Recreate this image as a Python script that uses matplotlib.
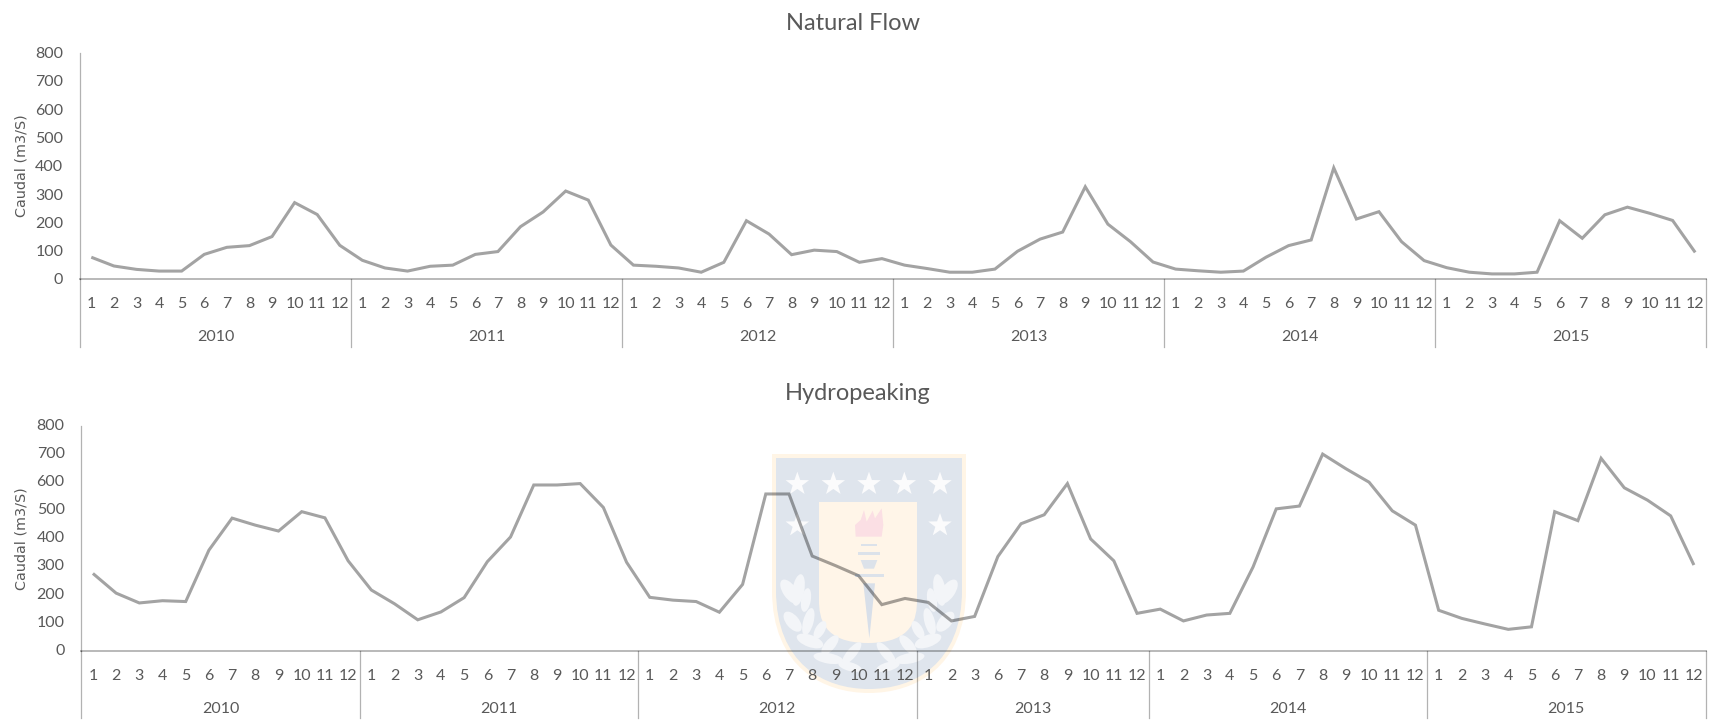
import matplotlib
matplotlib.use("Agg")
import matplotlib.pyplot as plt
from matplotlib.patches import PathPatch, Ellipse, Polygon
from matplotlib.path import Path
from matplotlib.transforms import ScaledTranslation
import numpy as np

years = [2010, 2011, 2012, 2013, 2014, 2015]
months_full = [1, 2, 3, 4, 5, 6, 7, 8, 9, 10, 11, 12]
months_2013_hydro = [1, 2, 3, 6, 7, 8, 9, 10, 11, 12]

natural_2010 = [77, 46, 34, 28, 28, 87, 112, 118, 150, 270, 228, 119]
natural_2011 = [66, 39, 28, 45, 49, 87, 97, 185, 237, 311, 279, 120]
natural_2012 = [49, 45, 39, 24, 59, 206, 159, 86, 102, 97, 59, 72]
natural_2013 = [49, 37, 24, 24, 35, 98, 141, 166, 326, 194, 132, 60]
natural_2014 = [35, 29, 24, 28, 77, 118, 138, 393, 212, 238, 132, 65]
natural_2015 = [40, 24, 18, 18, 24, 206, 144, 227, 254, 232, 207, 94]

hydro_2010 = [275, 205, 170, 178, 175, 358, 472, 447, 426, 495, 473, 320]
hydro_2011 = [216, 167, 110, 138, 189, 317, 405, 590, 590, 595, 510, 315]
hydro_2012 = [190, 180, 175, 137, 236, 558, 558, 337, 303, 267, 164, 186]
hydro_2013 = [172, 106, 122, 335, 452, 484, 595, 398, 320, 133]
hydro_2014 = [148, 106, 127, 133, 298, 505, 515, 700, 648, 600, 498, 447]
hydro_2015 = [144, 115, 95, 76, 85, 495, 463, 685, 580, 536, 480, 305]

natural_series = [natural_2010, natural_2011, natural_2012, natural_2013, natural_2014, natural_2015]
hydro_series = [hydro_2010, hydro_2011, hydro_2012, hydro_2013, hydro_2014, hydro_2015]
natural_months = [months_full] * 6
hydro_months = [months_full, months_full, months_full, months_2013_hydro, months_full, months_full]

FONT = ["Lato", "DejaVu Sans"]
TXT = "#595959"
W, H = 1711, 720
plt.rcParams["font.family"] = FONT

fig = plt.figure(figsize=(W / 100, H / 100), dpi=100, facecolor="white")


def fx(x):
    return x / W


def fy(y):
    return 1 - y / H


def zx(px):
    return 740 + px / 3


def zy(py):
    return 440 + py / 3


def shield(x0, x1, top, straight, bottom, color, z):
    xm = (x0 + x1) / 2
    verts = [(x0, top), (x1, top), (x1, straight),
             (x1, bottom - 25), (xm + 45, bottom), (xm, bottom),
             (xm - 45, bottom), (x0, bottom - 25), (x0, straight), (x0, top)]
    codes = [Path.MOVETO, Path.LINETO, Path.LINETO, Path.CURVE4, Path.CURVE4, Path.CURVE4,
             Path.CURVE4, Path.CURVE4, Path.CURVE4, Path.CLOSEPOLY]
    v = [(fx(a), fy(b)) for a, b in verts]
    fig.add_artist(PathPatch(Path(v, codes), fc=color, ec="none", transform=fig.transFigure, zorder=z))


def poly(points, color, z=-6):
    v = [(fx(zx(a)), fy(zy(b))) for a, b in points]
    fig.add_artist(Polygon(v, closed=True, fc=color, ec="none", transform=fig.transFigure, zorder=z))


def star(px, py, r=37):
    a = np.deg2rad(np.arange(10) * 36 - 90)
    rad = np.where(np.arange(10) % 2 == 0, r, r * 0.4)
    poly(list(zip(px + rad * np.cos(a) * 1.0, py + rad * np.sin(a))), "#FBFBFC")


def leaf(px, py, w, h, ang):
    fig.add_artist(Ellipse((zx(px), H - zy(py)), w * 1.2 / 3, h * 1.2 / 3, angle=ang, fc="#F3F5F8", ec="none",
                           transform=None, zorder=-6))


# University crest watermark behind the plots
shield(772, 966, 454, 590, 693, "#FFF5E6", -9)
shield(776, 962, 458, 590, 689, "#DFE5ED", -8)
shield(819, 917, 502, 600, 643, "#FFF5E8", -7)
for sx in (172, 280, 387, 493, 600):
    star(sx, 132)
star(172, 256)
star(600, 256)
poly([(347, 290), (345, 255), (362, 240), (372, 210), (380, 245), (398, 212), (405, 235), (425, 205),
      (430, 255), (425, 290)], "#FBDFE4")
for ty in (315, 340):
    poly([(362 if ty == 315 else 355, ty - 4), (412 if ty == 315 else 420, ty - 4),
          (412 if ty == 315 else 420, ty + 4), (362 if ty == 315 else 355, ty + 4)], "#DCE2EA")
poly([(362, 360), (412, 360), (402, 386), (372, 386)], "#DCE2EA")
poly([(345, 403), (432, 403), (432, 411), (345, 411)], "#DCE2EA")
poly([(370, 430), (405, 430), (388, 595)], "#D8DFE9")
leaves = [(150, 455, 34, 70, 35), (175, 450, 30, 80, -10), (198, 480, 24, 60, -10), (158, 545, 32, 60, 40),
          (205, 545, 26, 70, -15), (240, 570, 24, 50, -30), (210, 603, 30, 70, 70), (270, 615, 26, 60, -40),
          (265, 655, 26, 75, 80), (335, 640, 24, 70, -40), (330, 680, 22, 60, 75)]
for lx, ly, lw, lh, la in leaves:
    leaf(lx, ly, lw, lh, la)
    leaf(774 - lx, ly, lw, lh, -la)


def draw(left, right, top, bottom, series, months, title, title_cx, title_cy, month_off, year_off, div_off, ylab_up):
    ax = fig.add_axes([fx(left), fy(bottom), fx(right - left), (bottom - top) / H])
    ax.patch.set_alpha(0)
    labels = [m for ms in months for m in ms]
    values = [v for s in series for v in s]
    n = len(values)
    x = np.arange(n)
    ax.plot(x, values, color="black", alpha=0.36, lw=2.2, solid_joinstyle="miter", solid_capstyle="butt")
    ax.set_xlim(-0.5, n - 0.5)
    ax.set_ylim(0, 800)
    ax.set_yticks(range(0, 801, 100))
    ax.set_xticks(x)
    ax.set_xticklabels(labels)
    ax.tick_params(axis="both", length=0, labelsize=11.5, labelcolor=TXT)
    ax.tick_params(axis="y", pad=12)
    ax.tick_params(axis="x", pad=(month_off - 7.5) * 0.72)
    shift = ScaledTranslation(0, ylab_up / 100, fig.dpi_scale_trans)
    for lab in ax.get_yticklabels():
        lab.set_transform(lab.get_transform() + shift)
    for s in ("top", "right"):
        ax.spines[s].set_visible(False)
    ax.spines["left"].set_color((0, 0, 0, 0.3))
    ax.spines["left"].set_linewidth(0.9)
    ax.spines["bottom"].set_color((0, 0, 0, 0.28))
    ax.spines["bottom"].set_linewidth(1.4)
    ax.set_ylabel("Caudal (m3/S)", family=["DejaVu Sans"], fontsize=10.4, color=TXT)
    ax.yaxis.set_label_coords((29 - left) / (right - left), 0.5)
    ax.set_title(title, x=(title_cx - left) / (right - left), y=(bottom - title_cy) / (bottom - top),
                 va="center", fontsize=17, color=TXT, pad=0)
    h = bottom - top
    start = -0.5
    edges = [start]
    for yr, ms in zip(years, months):
        end = start + len(ms)
        ax.annotate(str(yr), xy=((start + end) / 2, 0), xycoords=("data", "axes fraction"),
                    xytext=(0, -year_off * 0.72), textcoords="offset points",
                    ha="center", va="center", fontsize=11.5, color=TXT)
        edges.append(end)
        start = end
    for e in edges:
        ax.plot([e, e], [0, -div_off / h], transform=ax.get_xaxis_transform(), clip_on=False,
                color=(0, 0, 0, 0.3), lw=0.9)
    return ax


draw(80, 1706.5, 52.7, 279, natural_series, natural_months, "Natural Flow", 853, 24, 26, 58, 68, 0)
draw(81.3, 1705.5, 426, 650.7, hydro_series, hydro_months, "Hydropeaking", 858, 394, 26, 58, 67, 1.5)

fig.savefig("out.png", dpi=100, facecolor="white")
